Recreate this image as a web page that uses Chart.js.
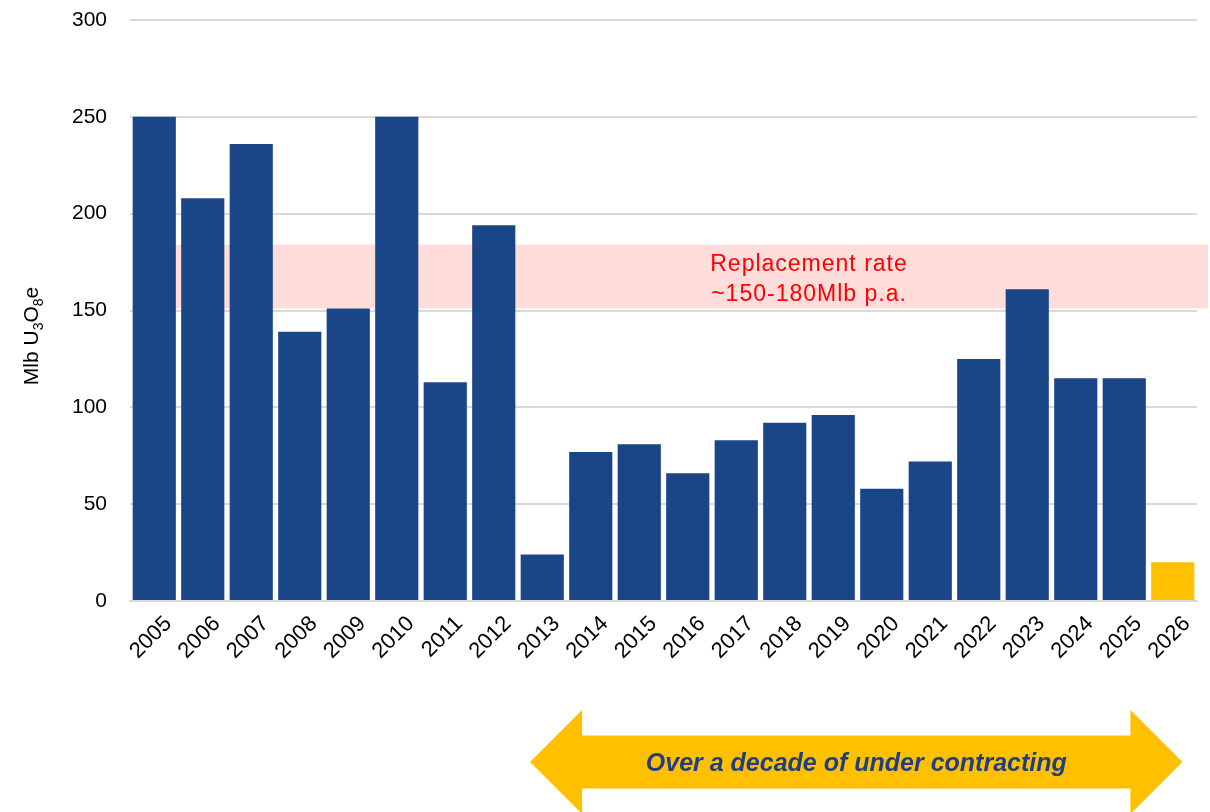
<!DOCTYPE html>
<html>
<head>
<meta charset="utf-8">
<script src="https://cdn.jsdelivr.net/npm/chart.js@4.4.1/dist/chart.umd.min.js"></script>
<style>
  body { margin: 0; background: #fff; }
  canvas { display: block; }
</style>
</head>
<body>
<canvas id="chart" width="1210" height="812"></canvas>
<script>
// Contracting volumes per year (Mlb U3O8e)
const years = ["2005", "2006", "2007", "2008", "2009", "2010", "2011", "2012", "2013", "2014", "2015",
  "2016", "2017", "2018", "2019", "2020", "2021", "2022", "2023", "2024", "2025", "2026"];
const volumes = [250, 208, 236, 139, 151, 250, 113, 194, 24, 77, 81,
  66, 83, 92, 96, 58, 72, 125, 161, 115, 115, 20];
const yTicks = [0, 50, 100, 150, 200, 250, 300];

// Replacement rate band
const bandLow = 151;
const bandHigh = 184;
const bandText = ["Replacement rate", "~150-180Mlb p.a."];
const arrowText = "Over a decade of under contracting";

const barColor = "#1A4688";
const lastColor = "#FFC000";

// Pink band behind the bars + its label
const bandPlugin = {
  id: "band",
  beforeDatasetsDraw(chart) {
    const { ctx, chartArea, scales } = chart;
    const top = scales.y.getPixelForValue(bandHigh);
    const bottom = scales.y.getPixelForValue(bandLow);
    const left = scales.x.getPixelForValue(0);
    ctx.save();
    ctx.fillStyle = "#FFDDDB";
    ctx.fillRect(left, top, chartArea.right + 11 - left, bottom - top);
    ctx.restore();
  },
  afterDatasetsDraw(chart) {
    const { ctx, scales } = chart;
    const mid = (scales.y.getPixelForValue(bandHigh) + scales.y.getPixelForValue(bandLow)) / 2;
    const cx = scales.x.getPixelForValue(13.5);
    ctx.save();
    ctx.fillStyle = "#FF0000";
    ctx.font = "23px 'Liberation Sans', Arial, sans-serif";
    ctx.letterSpacing = "1px";
    ctx.textAlign = "center";
    ctx.textBaseline = "middle";
    ctx.fillText(bandText[0], cx, mid - 12);
    ctx.fillText(bandText[1], cx, mid + 18);
    ctx.restore();
  }
};

// Axis title with subscripts, double arrow at the bottom
const extrasPlugin = {
  id: "extras",
  afterDraw(chart) {
    const { ctx, scales } = chart;
    // y-axis title
    ctx.save();
    ctx.translate(31, 336);
    ctx.rotate(-Math.PI / 2);
    ctx.fillStyle = "#000";
    ctx.textBaseline = "alphabetic";
    const big = "21px 'Liberation Sans', Arial, sans-serif";
    const small = "14px 'Liberation Sans', Arial, sans-serif";
    const parts = [["Mlb U", big, 0], ["3", small, 5], ["O", big, 0], ["8", small, 5], ["e", big, 0]];
    let w = 0;
    parts.forEach(p => { ctx.font = p[1]; w += ctx.measureText(p[0]).width; });
    let x = -w / 2;
    parts.forEach(p => {
      ctx.font = p[1];
      ctx.fillText(p[0], x, 7 + p[2]);
      x += ctx.measureText(p[0]).width;
    });
    ctx.restore();

    // double-headed arrow
    const l = scales.x.getPixelForValue(7.75);
    const r = scales.x.getPixelForValue(21.2);
    const cy = 762, shaft = 26.5, head = 52, hl = 52;
    ctx.save();
    ctx.fillStyle = "#FFC000";
    ctx.beginPath();
    ctx.moveTo(l, cy);
    ctx.lineTo(l + hl, cy - head);
    ctx.lineTo(l + hl, cy - shaft);
    ctx.lineTo(r - hl, cy - shaft);
    ctx.lineTo(r - hl, cy - head);
    ctx.lineTo(r, cy);
    ctx.lineTo(r - hl, cy + head);
    ctx.lineTo(r - hl, cy + shaft);
    ctx.lineTo(l + hl, cy + shaft);
    ctx.lineTo(l + hl, cy + head);
    ctx.closePath();
    ctx.fill();
    ctx.fillStyle = "#1F3F80";
    ctx.font = "italic bold 25px 'Liberation Sans', Arial, sans-serif";
    ctx.textAlign = "center";
    ctx.textBaseline = "middle";
    ctx.fillText(arrowText, (l + r) / 2, cy + 2);
    ctx.restore();
  }
};

new Chart(document.getElementById("chart").getContext("2d"), {
  type: "bar",
  data: {
    labels: years,
    datasets: [{
      data: volumes,
      backgroundColor: years.map((y, i) => i === years.length - 1 ? lastColor : barColor),
      barPercentage: 0.89,
      categoryPercentage: 1.0
    }]
  },
  options: {
    responsive: false,
    animation: false,
    layout: { padding: { top: 20, right: 13, left: 0, bottom: 0 } },
    plugins: { legend: { display: false }, tooltip: { enabled: false } },
    scales: {
      x: {
        afterFit(scale) {
          scale.height = 211;
          scale.paddingLeft = 0;
          scale.paddingRight = 0;
        },
        grid: { display: false, drawTicks: false },
        border: { color: "#D9D9D9", width: 2 },
        ticks: {
          color: "#000",
          font: { size: 22, family: "'Liberation Sans', Arial, sans-serif" },
          minRotation: 45,
          maxRotation: 45,
          autoSkip: false,
          padding: 10,
          labelOffset: 14
        }
      },
      y: {
        min: 0,
        max: 300,
        afterFit(scale) {
          scale.width = 130;
          scale.paddingTop = 0;
          scale.paddingBottom = 0;
        },
        afterBuildTicks(scale) { scale.ticks = yTicks.map(v => ({ value: v })); },
        grid: { color: "#D9D9D9", lineWidth: 2, drawTicks: false },
        border: { display: false },
        ticks: {
          color: "#000",
          font: { size: 21, family: "'Liberation Sans', Arial, sans-serif" },
          padding: 23
        }
      }
    }
  },
  plugins: [bandPlugin, extrasPlugin]
});
</script>
</body>
</html>
